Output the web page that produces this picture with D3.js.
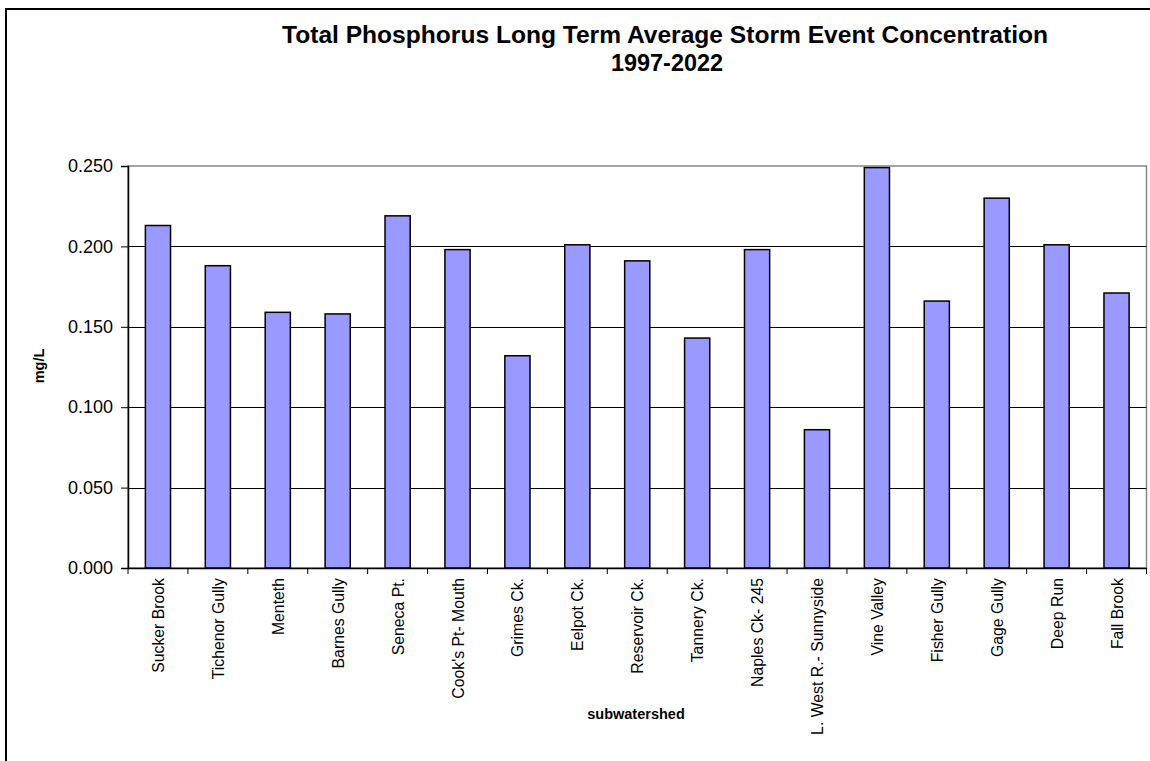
<!DOCTYPE html>
<html>
<head>
<meta charset="utf-8">
<script src="https://cdn.jsdelivr.net/npm/d3@7"></script>
<style>
  body { margin: 0; background: #fff; }
  svg { display: block; font-family: "Liberation Sans", Arial, sans-serif; }
</style>
</head>
<body>
<svg id="chart" width="1150" height="761"></svg>
<script>
const categories = ["Sucker Brook", "Tichenor Gully", "Menteth", "Barnes Gully", "Seneca Pt.",
  "Cook's Pt- Mouth", "Grimes Ck.", "Eelpot Ck.", "Reservoir Ck.", "Tannery Ck.",
  "Naples Ck- 245", "L. West R.- Sunnyside", "Vine Valley", "Fisher Gully", "Gage Gully",
  "Deep Run", "Fall Brook"];
const values = [0.213, 0.188, 0.159, 0.158, 0.219, 0.198, 0.132, 0.201, 0.191, 0.143,
  0.198, 0.086, 0.249, 0.166, 0.230, 0.201, 0.171];
const yTicks = [0, 0.05, 0.1, 0.15, 0.2, 0.25];
const titleLines = ["Total Phosphorus  Long Term Average Storm Event Concentration", "1997-2022"];
const yLabel = "mg/L";
const xLabel = "subwatershed";

const svg = d3.select("#chart");
const m = { left: 128, right: 1146.5, top: 166, bottom: 568 };

// outer frame (left + top edges visible)
svg.append("line").attr("x1", 6).attr("x2", 6).attr("y1", 9).attr("y2", 761)
  .attr("stroke", "#000").attr("stroke-width", 2);
svg.append("line").attr("x1", 5).attr("x2", 1150).attr("y1", 9).attr("y2", 9)
  .attr("stroke", "#000").attr("stroke-width", 2);

const x = d3.scaleBand().domain(categories).range([m.left, m.right]).padding(0);
const y = d3.scaleLinear().domain([0, 0.25]).range([m.bottom, m.top]);

// plot area border (gray)
svg.append("rect").attr("x", m.left).attr("y", m.top)
  .attr("width", m.right - m.left).attr("height", m.bottom - m.top)
  .attr("fill", "none").attr("stroke", "#888").attr("stroke-width", 1.5);

// gridlines
svg.append("g").selectAll("line").data(yTicks.filter(d => d > 0 && d < 0.25)).join("line")
  .attr("x1", m.left).attr("x2", m.right)
  .attr("y1", d => Math.round(y(d)) + 0.5).attr("y2", d => Math.round(y(d)) + 0.5)
  .attr("stroke", "#000").attr("stroke-width", 1);

// bars
const bw = x.bandwidth() * 0.42;
svg.append("g").selectAll("rect").data(values).join("rect")
  .attr("x", (d, i) => x(categories[i]) + x.bandwidth() / 2 - bw / 2)
  .attr("y", d => y(d))
  .attr("width", bw)
  .attr("height", d => m.bottom - y(d))
  .attr("fill", "#9999FF").attr("stroke", "#000").attr("stroke-width", 1.5);

// y axis
const yAxis = svg.append("g").attr("transform", `translate(${m.left},0)`)
  .call(d3.axisLeft(y).tickValues(yTicks).tickFormat(d3.format(".3f")).tickSize(7).tickPadding(8));
yAxis.select(".domain").attr("stroke", "#000").attr("stroke-width", 1.5);
yAxis.selectAll(".tick line").attr("stroke", "#000");
yAxis.selectAll(".tick text").attr("font-size", 18).attr("fill", "#000")
  .attr("font-family", "Liberation Sans, Arial, sans-serif");

// x axis
const xAxis = svg.append("g").attr("transform", `translate(0,${m.bottom})`)
  .call(d3.axisBottom(x).tickSize(0).tickFormat(""));
xAxis.select(".domain").attr("stroke", "#000").attr("stroke-width", 1.5);
// tick marks at band boundaries
const bounds = categories.map(c => x(c)).concat([m.right]);
svg.append("g").selectAll("line").data(bounds).join("line")
  .attr("x1", d => d).attr("x2", d => d)
  .attr("y1", m.bottom).attr("y2", m.bottom + 6)
  .attr("stroke", "#000").attr("stroke-width", 1);

// x labels rotated
svg.append("g").selectAll("text").data(categories).join("text")
  .attr("transform", d => `translate(${x(d) + x.bandwidth() / 2 + 6},${m.bottom + 10}) rotate(-90)`)
  .attr("text-anchor", "end")
  .attr("font-size", 15.8)
  .attr("fill", "#000")
  .text(d => d);

// axis titles
svg.append("text").attr("transform", `translate(${44},${366}) rotate(-90)`)
  .attr("text-anchor", "middle").attr("font-size", 14.5).attr("font-weight", "bold").text(yLabel);
svg.append("text").attr("x", 636).attr("y", 719)
  .attr("text-anchor", "middle").attr("font-size", 14.5).attr("font-weight", "bold").text(xLabel);

// title
svg.append("text").attr("x", 665).attr("y", 43)
  .attr("text-anchor", "middle").attr("font-size", 23).attr("font-weight", "bold")
  .attr("textLength", 766).attr("lengthAdjust", "spacingAndGlyphs")
  .text(titleLines[0]);
svg.append("text").attr("x", 667).attr("y", 71)
  .attr("text-anchor", "middle").attr("font-size", 23).attr("font-weight", "bold")
  .attr("textLength", 112).attr("lengthAdjust", "spacingAndGlyphs")
  .text(titleLines[1]);
</script>
</body>
</html>
